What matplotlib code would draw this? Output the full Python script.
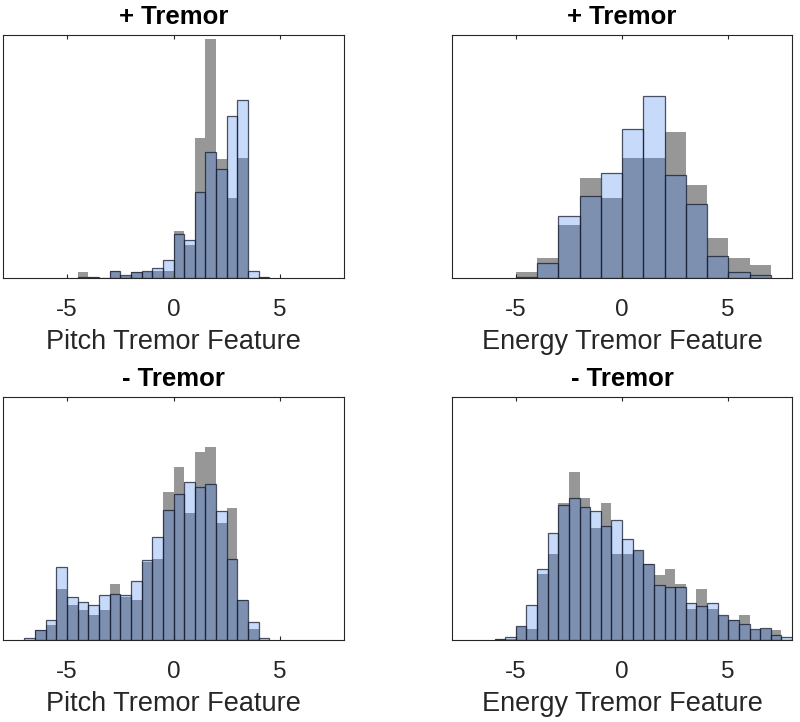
import matplotlib.pyplot as plt
import numpy as np

plt.rcParams['font.family'] = ['Liberation Sans', 'DejaVu Sans']

# pitch feature, + tremor (bins of 0.5 from -4.5)
pitch_pos_start = -4.5
pitch_pos_gray = [18, 3, 0, 21, 5, 18, 18, 22, 20, 140, 100, 420, 719, 359, 240, 360, 0, 3]
pitch_pos_blue = [4, 3, 0, 21, 10, 18, 22, 29, 53, 131, 115, 258, 379, 327, 488, 536, 21, 3]

# energy feature, + tremor (bins of 1 from -5)
energy_pos_start = -5
energy_pos_gray = [19, 59, 160, 300, 240, 360, 360, 440, 280, 119, 59, 39]
energy_pos_blue = [4, 44, 188, 247, 317, 449, 547, 310, 224, 66, 17, 9]

# pitch feature, - tremor (bins of 0.5 from -7)
pitch_neg_start = -7.0
pitch_neg_gray = [0, 30, 44, 152, 106, 91, 75, 91, 168, 129, 120, 234, 243, 445, 521,
                  382, 567, 580, 352, 397, 121, 32, 0]
pitch_neg_blue = [6, 30, 61, 221, 130, 115, 104, 134, 137, 134, 176, 242, 309, 392, 440,
                  475, 461, 468, 388, 245, 121, 54, 6]

# energy feature, - tremor (bins of 0.5 from -6)
energy_neg_start = -6.0
energy_neg_gray = [3, 2, 40, 32, 200, 260, 412, 504, 427, 337, 413, 260, 260, 268, 228,
                   197, 214, 167, 92, 152, 92, 72, 60, 76, 30, 32, 30, 0]
energy_neg_blue = [3, 9, 43, 104, 214, 323, 405, 428, 401, 388, 342, 360, 304, 271, 228,
                   165, 160, 160, 110, 102, 110, 75, 60, 47, 33, 37, 15, 8]

panels = [
    (pitch_pos_start, 0.5, pitch_pos_gray, pitch_pos_blue, '+ Tremor', 'Pitch Tremor Feature'),
    (energy_pos_start, 1.0, energy_pos_gray, energy_pos_blue, '+ Tremor', 'Energy Tremor Feature'),
    (pitch_neg_start, 0.5, pitch_neg_gray, pitch_neg_blue, '- Tremor', 'Pitch Tremor Feature'),
    (energy_neg_start, 0.5, energy_neg_gray, energy_neg_blue, '- Tremor', 'Energy Tremor Feature'),
]

W, H = 800, 722
boxes = [(3, 35, 344, 278), (452, 35, 792, 278), (3, 397, 344, 640), (452, 397, 792, 640)]

fig = plt.figure(figsize=(8, 7.22), dpi=100)
for (start, w, gray, blue, title, xlabel), (x0, y0, x1, y1) in zip(panels, boxes):
    ax = fig.add_axes([x0 / W, 1 - y1 / H, (x1 - x0) / W, (y1 - y0) / H])
    left = start + w * np.arange(len(gray))
    ax.bar(left, gray, width=w, align='edge', color=(0.32, 0.32, 0.32, 0.6), edgecolor='none')
    ax.bar(left, blue, width=w, align='edge', facecolor=(0.25, 0.5, 0.93, 0.29),
           edgecolor=(0.08, 0.1, 0.18, 0.75), linewidth=0.9)
    ax.set_xlim(-8, 8)
    ax.set_ylim(0, 731)
    ax.set_yticks([])
    ax.set_xticks([-5, 0, 5])
    ax.set_xticklabels(['-5', '0', '5'])
    ax.tick_params(axis='x', direction='in', top=True, length=3, pad=15,
                   labelsize=17.5, colors='#262626', width=0.8)
    for s in ax.spines.values():
        s.set_color('#262626')
        s.set_linewidth(0.8)
    ax.set_title(title, fontsize=18.5, fontweight='bold', pad=8)
    ax.set_xlabel(xlabel, fontsize=19.5, color='#262626', labelpad=6)

fig.savefig('out.png', dpi=100)
